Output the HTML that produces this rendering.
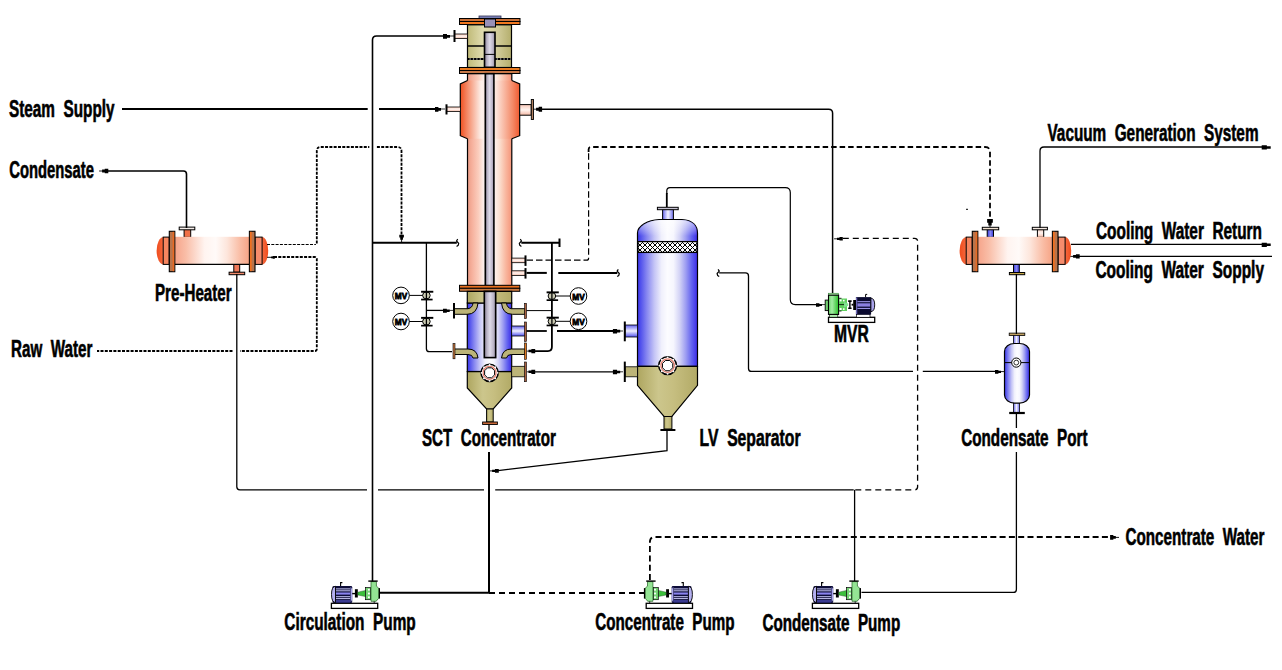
<!DOCTYPE html>
<html><head><meta charset="utf-8"><style>
html,body{margin:0;padding:0;background:#fff;width:1282px;height:670px;overflow:hidden}
svg{display:block}
text{font-family:"Liberation Sans",sans-serif;font-weight:bold;white-space:pre;stroke:#000;stroke-width:0.6px}
</style></head><body>
<svg width="1282" height="670" viewBox="0 0 1282 670">

<defs>
<linearGradient id="gSal" x1="0" x2="1" y1="0" y2="0">
 <stop offset="0" stop-color="#eb9c86"/><stop offset="0.1" stop-color="#f6b09c"/><stop offset="0.25" stop-color="#fbcebe"/><stop offset="0.37" stop-color="#fdf0ec"/><stop offset="0.6" stop-color="#fff4f0"/><stop offset="0.72" stop-color="#fbe0d0"/><stop offset="0.86" stop-color="#f9b8a0"/><stop offset="1" stop-color="#f59478"/>
</linearGradient>
<linearGradient id="gJac" x1="0" x2="1" y1="0" y2="0">
 <stop offset="0" stop-color="#f05020"/><stop offset="0.12" stop-color="#f48a68"/><stop offset="0.35" stop-color="#fdf0ea"/><stop offset="0.6" stop-color="#fde6dc"/><stop offset="0.88" stop-color="#f48a68"/><stop offset="1" stop-color="#f05a30"/>
</linearGradient>
<linearGradient id="gBlue" x1="0" x2="1" y1="0" y2="0">
 <stop offset="0" stop-color="#3a30e8"/><stop offset="0.05" stop-color="#5050ec"/><stop offset="0.15" stop-color="#8484f0"/><stop offset="0.28" stop-color="#c4c4f6"/><stop offset="0.4" stop-color="#f0f0fc"/><stop offset="0.5" stop-color="#fcfcff"/><stop offset="0.6" stop-color="#f6f6fe"/><stop offset="0.7" stop-color="#d4d4f6"/><stop offset="0.8" stop-color="#a0a0f2"/><stop offset="0.9" stop-color="#6464f0"/><stop offset="1" stop-color="#3a2ae8"/>
</linearGradient>
<linearGradient id="gBlueV" x1="0" x2="0" y1="0" y2="1">
 <stop offset="0" stop-color="#ffffff" stop-opacity="0.65"/><stop offset="0.6" stop-color="#ffffff" stop-opacity="0.3"/><stop offset="1" stop-color="#ffffff" stop-opacity="0"/>
</linearGradient>
<linearGradient id="gKhaki" x1="0" x2="1" y1="0" y2="0">
 <stop offset="0" stop-color="#aea660"/><stop offset="0.35" stop-color="#ccc68c"/><stop offset="0.6" stop-color="#c6be80"/><stop offset="1" stop-color="#b2aa66"/>
</linearGradient>
<linearGradient id="gKhakiT" x1="0" x2="1" y1="0" y2="0">
 <stop offset="0" stop-color="#c0ba78"/><stop offset="0.35" stop-color="#e0dcb0"/><stop offset="0.7" stop-color="#d0ca98"/><stop offset="1" stop-color="#b4ae6c"/>
</linearGradient>
<linearGradient id="gTube" x1="0" x2="1" y1="0" y2="0">
 <stop offset="0" stop-color="#847c90"/><stop offset="0.25" stop-color="#bcb6c8"/><stop offset="0.5" stop-color="#dedae8"/><stop offset="0.8" stop-color="#bcb6c8"/><stop offset="1" stop-color="#8c8498"/>
</linearGradient>
<linearGradient id="gHX" x1="0" x2="1" y1="0" y2="0">
 <stop offset="0" stop-color="#f6a48a"/><stop offset="0.15" stop-color="#f9bea8"/><stop offset="0.4" stop-color="#fff4f0"/><stop offset="0.55" stop-color="#fffaf8"/><stop offset="0.7" stop-color="#fde6dc"/><stop offset="0.88" stop-color="#f9bca4"/><stop offset="1" stop-color="#f6a486"/>
</linearGradient>
<linearGradient id="gPipeP" x1="0" x2="0" y1="0" y2="1">
 <stop offset="0" stop-color="#f8c8b8"/><stop offset="0.5" stop-color="#fff4f0"/><stop offset="1" stop-color="#f4b8a4"/>
</linearGradient>
<linearGradient id="gPipeB" x1="0" x2="0" y1="0" y2="1">
 <stop offset="0" stop-color="#6060f0"/><stop offset="0.5" stop-color="#f0f0ff"/><stop offset="1" stop-color="#5050ee"/>
</linearGradient>
<linearGradient id="gPipeBV" x1="0" x2="1" y1="0" y2="0">
 <stop offset="0" stop-color="#3838d8"/><stop offset="0.5" stop-color="#8888f4"/><stop offset="1" stop-color="#3838d8"/>
</linearGradient>
<linearGradient id="gGreen" x1="0" x2="1" y1="0" y2="0">
 <stop offset="0" stop-color="#40c040"/><stop offset="0.45" stop-color="#a8f0a8"/><stop offset="1" stop-color="#48c048"/>
</linearGradient>
<linearGradient id="gPipeBL" x1="0" x2="1" y1="0" y2="0">
 <stop offset="0" stop-color="#6464ec"/><stop offset="0.5" stop-color="#f4f4ff"/><stop offset="1" stop-color="#7070f0"/>
</linearGradient>
<linearGradient id="gGreenM" x1="0" x2="1" y1="0" y2="0">
 <stop offset="0" stop-color="#6cd86c"/><stop offset="0.35" stop-color="#a4eca4"/><stop offset="1" stop-color="#28c028"/>
</linearGradient>
<linearGradient id="gCap" x1="0" x2="1" y1="0" y2="0">
 <stop offset="0" stop-color="#f04c1c"/><stop offset="1" stop-color="#f46a40"/>
</linearGradient>
<linearGradient id="gCapR" x1="0" x2="1" y1="0" y2="0">
 <stop offset="0" stop-color="#f46a40"/><stop offset="1" stop-color="#f04c1c"/>
</linearGradient>
<pattern id="mesh" x="0" y="0" width="5" height="5" patternUnits="userSpaceOnUse">
 <rect width="5" height="5" fill="#fff"/><rect x="0" y="0" width="1" height="1" fill="#000"/><rect x="0" y="4" width="1" height="1" fill="#000"/><rect x="1" y="1" width="1" height="1" fill="#000"/><rect x="1" y="3" width="1" height="1" fill="#000"/><rect x="2" y="2" width="1" height="1" fill="#000"/><rect x="3" y="1" width="1" height="1" fill="#000"/><rect x="3" y="3" width="1" height="1" fill="#000"/><rect x="4" y="0" width="1" height="1" fill="#000"/><rect x="4" y="4" width="1" height="1" fill="#000"/>
</pattern>
</defs>

<rect x="479" y="16" width="22" height="2.3" fill="#8088c0" stroke="#303050" stroke-width="0.8"/>
<rect x="459.5" y="18.5" width="60.5" height="3" fill="#c87038" stroke="#000" stroke-width="1"/>
<rect x="459.5" y="21.5" width="60.5" height="3" fill="#f07820" stroke="#000" stroke-width="1"/>
<rect x="467.5" y="24.8" width="44" height="42.7" fill="url(#gKhakiT)" stroke="#000" stroke-width="1.2"/>
<line x1="467.5" y1="46" x2="511.5" y2="46" stroke="#000" stroke-width="1.6"/>
<line x1="468" y1="59" x2="511" y2="59" stroke="#000" stroke-width="2"/>
<line x1="469.5" y1="59" x2="511" y2="59" stroke="#fff" stroke-width="1" stroke-dasharray="1.2,2.2"/>
<rect x="484.5" y="19" width="11" height="8" fill="#9890b8" stroke="#000" stroke-width="1"/>
<rect x="484.5" y="32.3" width="10.5" height="35" fill="url(#gTube)" stroke="#000" stroke-width="1.6"/>
<line x1="484.5" y1="54.4" x2="495" y2="54.4" stroke="#000" stroke-width="1"/>
<rect x="454.5" y="34" width="13" height="4.5" fill="url(#gPipeP)" stroke="#000" stroke-width="0.8"/>
<line x1="454.5" y1="30" x2="454.5" y2="42" stroke="#000" stroke-width="2"/>
<rect x="467.5" y="73.7" width="44.3" height="212" fill="url(#gSal)" stroke="#000" stroke-width="1.2"/>
<path d="M467.5,80.5 L460.3,84 L460.3,135.7 L467.5,138.8 L511.8,138.8 L519.7,135.7 L519.7,84 L511.8,80.5 Z" fill="url(#gJac)"/>
<path d="M467.5,80.5 L460.3,84 L460.3,135.7 L467.5,138.8 M511.8,80.5 L519.7,84 L519.7,135.7 L511.8,138.8" fill="none" stroke="#000" stroke-width="1.2"/>
<rect x="459.5" y="67.5" width="60.5" height="3" fill="#e87a20" stroke="#000" stroke-width="1"/>
<rect x="459.5" y="70.5" width="60.5" height="3" fill="#c87848" stroke="#000" stroke-width="1"/>
<rect x="485.3" y="73.7" width="8.6" height="212" fill="url(#gTube)" stroke="#000" stroke-width="1.6"/>
<rect x="446.5" y="107" width="14" height="4.5" fill="url(#gPipeP)" stroke="#000" stroke-width="0.8"/>
<line x1="446.5" y1="104.3" x2="446.5" y2="114.5" stroke="#000" stroke-width="2"/>
<rect x="519.7" y="104.6" width="11.5" height="10.6" fill="url(#gPipeP)" stroke="#000" stroke-width="1"/>
<rect x="531.3" y="99.5" width="2.2" height="20" fill="#b08060" stroke="#000" stroke-width="0.9"/>
<rect x="511.8" y="258.09999999999997" width="13.5" height="4.6" fill="url(#gPipeP)" stroke="#000" stroke-width="0.8"/>
<line x1="525.5" y1="255.39999999999998" x2="525.5" y2="265.9" stroke="#000" stroke-width="2"/>
<rect x="511.8" y="270.8" width="13.5" height="4.6" fill="url(#gPipeP)" stroke="#000" stroke-width="0.8"/>
<line x1="525.5" y1="268.1" x2="525.5" y2="278.6" stroke="#000" stroke-width="2"/>
<rect x="459.5" y="285.3" width="60.3" height="3" fill="#e87020" stroke="#000" stroke-width="1"/>
<rect x="459.5" y="288.3" width="60.3" height="3" fill="#c87840" stroke="#000" stroke-width="1"/>
<rect x="467.3" y="303" width="44.4" height="68.5" fill="url(#gBlue)" stroke="#000" stroke-width="1.2"/>
<rect x="467.3" y="291.4" width="44.4" height="11.6" fill="url(#gKhaki)" stroke="#000" stroke-width="1.2"/>
<path d="M467.3,371.7 L511.7,371.7 L511.7,388 L493.2,409 L486.6,409 L467.3,388 Z" fill="url(#gKhaki)" stroke="#000" stroke-width="1.2"/>
<rect x="486.6" y="409" width="6.6" height="13" fill="url(#gKhaki)" stroke="#000" stroke-width="1"/>
<rect x="482.6" y="422" width="14.8" height="2.5" fill="#c86838" stroke="#000" stroke-width="0.9"/>
<rect x="484.3" y="291.4" width="11.4" height="66.2" fill="url(#gTube)" stroke="#000" stroke-width="1.6"/>
<path d="M454.5,308.7 L468,308.7 Q472.5,308 473,303 L478,303 Q477,314.3 467,314.3 L454.5,314.3 Z" fill="#bcb478" stroke="#000" stroke-width="1"/>
<path d="M525,308.7 L511.5,308.7 Q507,308 506.5,303 L501.5,303 Q502.5,314.3 512.5,314.3 L525,314.3 Z" fill="#bcb478" stroke="#000" stroke-width="1"/>
<path d="M454.5,349 L468,349 Q477,349 478,358 L473,358 Q472.5,354.5 468,354.5 L454.5,354.5 Z" fill="#bcb478" stroke="#000" stroke-width="1"/>
<path d="M525,349 L511.5,349 Q502.5,349 501.5,358 L506.5,358 Q507,354.5 511.5,354.5 L525,354.5 Z" fill="#bcb478" stroke="#000" stroke-width="1"/>
<line x1="454" y1="303" x2="454" y2="318.5" stroke="#000" stroke-width="2"/>
<rect x="453" y="343.6" width="2" height="15.2" fill="#c87840" stroke="#000" stroke-width="0.6"/>
<rect x="511.7" y="326" width="13.5" height="10" fill="url(#gPipeB)" stroke="#000" stroke-width="0.8"/>
<rect x="511.7" y="366.3" width="13.5" height="10.5" fill="#bcb478" stroke="#000" stroke-width="0.8"/>
<rect x="524.5" y="303.3" width="2" height="15.3" fill="#a86040" stroke="#000" stroke-width="0.6"/>
<rect x="524.5" y="322" width="2" height="19.5" fill="#a86040" stroke="#000" stroke-width="0.6"/>
<rect x="524.5" y="343" width="2" height="16.3" fill="#e07820" stroke="#000" stroke-width="0.6"/>
<rect x="524.5" y="362" width="2" height="19.7" fill="#a86040" stroke="#000" stroke-width="0.6"/>
<circle cx="489.6" cy="372.8" r="8.600000000000001" fill="#fff" stroke="#000" stroke-width="1.5"/>
<circle cx="489.6" cy="372.8" r="6.51" fill="none" stroke="#e88070" stroke-width="1.3020000000000003"/>
<circle cx="497.60" cy="372.80" r="0.9" fill="#fff"/>
<circle cx="495.26" cy="378.46" r="0.9" fill="#fff"/>
<circle cx="489.60" cy="380.80" r="0.9" fill="#fff"/>
<circle cx="483.94" cy="378.46" r="0.9" fill="#fff"/>
<circle cx="481.60" cy="372.80" r="0.9" fill="#fff"/>
<circle cx="483.94" cy="367.14" r="0.9" fill="#fff"/>
<circle cx="489.60" cy="364.80" r="0.9" fill="#fff"/>
<circle cx="495.26" cy="367.14" r="0.9" fill="#fff"/>
<path d="M494.58,374.86 L491.66,377.78 L487.54,377.78 L484.62,374.86 L484.62,370.74 L487.54,367.82 L491.66,367.82 L494.58,370.74 Z" fill="#fff" stroke="#000" stroke-width="1"/>
<rect x="662.6" y="209.3" width="10.8" height="11" fill="url(#gPipeBL)" stroke="#000" stroke-width="1"/>
<rect x="657.4" y="207.3" width="20.8" height="2.4" fill="#c4c0d0" stroke="#000" stroke-width="1"/>
<path d="M637.5,366.3 L637.5,233 C637.5,226 648,220 659,219.5 L682,219.5 C693,220 697.5,226 697.5,233 L697.5,366.3 Z" fill="url(#gBlue)" stroke="#000" stroke-width="1.2"/>
<path d="M638.2,236 L638.2,233 C638.2,226.5 648,220.3 659,220.2 L682,220.2 C693,220.3 696.8,226.5 696.8,233 L696.8,236 Z" fill="url(#gBlueV)"/>
<rect x="638" y="242" width="59" height="10" fill="url(#mesh)" shape-rendering="crispEdges"/>
<rect x="638" y="241.6" width="59" height="10.8" fill="none" stroke="#000" stroke-width="1.3"/>
<path d="M637.5,366.3 L697.5,366.3 L697.5,385.4 L671.9,416.5 L664,416.5 L637.5,385.4 Z" fill="url(#gKhaki)" stroke="#000" stroke-width="1.2"/>
<rect x="664" y="416.5" width="7.9" height="12.5" fill="url(#gKhaki)" stroke="#000" stroke-width="1"/>
<line x1="660.4" y1="430" x2="675.4" y2="430" stroke="#000" stroke-width="2"/>
<rect x="625" y="325" width="12.5" height="12" fill="url(#gPipeB)" stroke="#000" stroke-width="0.8"/>
<line x1="624.8" y1="321.5" x2="624.8" y2="341.3" stroke="#000" stroke-width="2"/>
<rect x="625" y="366.8" width="12.5" height="10" fill="#bcb478" stroke="#000" stroke-width="0.8"/>
<line x1="624.8" y1="361.6" x2="624.8" y2="382" stroke="#000" stroke-width="2"/>
<circle cx="667.6" cy="365.6" r="8.9" fill="#fff" stroke="#000" stroke-width="1.5"/>
<circle cx="667.6" cy="365.6" r="6.72" fill="none" stroke="#e88070" stroke-width="1.344"/>
<circle cx="675.86" cy="365.60" r="0.9" fill="#fff"/>
<circle cx="673.44" cy="371.44" r="0.9" fill="#fff"/>
<circle cx="667.60" cy="373.86" r="0.9" fill="#fff"/>
<circle cx="661.76" cy="371.44" r="0.9" fill="#fff"/>
<circle cx="659.34" cy="365.60" r="0.9" fill="#fff"/>
<circle cx="661.76" cy="359.76" r="0.9" fill="#fff"/>
<circle cx="667.60" cy="357.34" r="0.9" fill="#fff"/>
<circle cx="673.44" cy="359.76" r="0.9" fill="#fff"/>
<path d="M672.74,367.73 L669.73,370.74 L665.47,370.74 L662.46,367.73 L662.46,363.47 L665.47,360.46 L669.73,360.46 L672.74,363.47 Z" fill="#fff" stroke="#000" stroke-width="1"/>
<rect x="184.1" y="228.8" width="6.6" height="8.5" fill="#f07048" stroke="#000" stroke-width="1"/>
<rect x="179.2" y="227.1" width="15.6" height="2.7" fill="#f4ece8" stroke="#000" stroke-width="1"/>
<rect x="233.8" y="264.2" width="5.9" height="8" fill="#f07858" stroke="#000" stroke-width="1"/>
<rect x="229.1" y="272.2" width="15.6" height="2.5" fill="#f08868" stroke="#000" stroke-width="1"/>
<g transform="translate(0,0)">
<path d="M163.6,237.1 A7 13.649999999999991 0 0 0 163.6,264.4 Z" fill="url(#gCap)"/>
<path d="M262,237.1 A6.2 13.649999999999991 0 0 1 262,264.4 Z" fill="url(#gCapR)"/>
<rect x="163.2" y="237.1" width="6" height="27.299999999999983" fill="#f78660" stroke="#000" stroke-width="1"/>
<rect x="255" y="237.1" width="7.1" height="27.299999999999983" fill="#f58c6c" stroke="#000" stroke-width="1"/>
<rect x="174.9" y="236.79999999999998" width="74.3" height="27.599999999999984" fill="url(#gHX)"/>
<line x1="174.9" y1="264.4" x2="249.2" y2="264.4" stroke="#000" stroke-width="1.1"/>
<rect x="169.3" y="231.3" width="5.5" height="40.4" fill="#b8744c" stroke="#000" stroke-width="1.1"/>
<rect x="172.6" y="231.8" width="1.7" height="39.4" fill="#e86a24"/>
<rect x="249.4" y="231.3" width="5.6" height="40.4" fill="#b8744c" stroke="#000" stroke-width="1.1"/>
<rect x="249.9" y="231.8" width="1.8" height="39.4" fill="#f07020"/>
</g>
<rect x="987.2" y="228.8" width="6.3" height="8.5" fill="url(#gPipeBV)" stroke="#000" stroke-width="1"/>
<rect x="982.3" y="227.3" width="16.4" height="2.5" fill="#f0e0d0" stroke="#000" stroke-width="1"/>
<rect x="1037.4" y="228.8" width="6.3" height="8.5" fill="url(#gPipeP)" stroke="#000" stroke-width="1"/>
<rect x="1032.3" y="227.3" width="15.1" height="2.5" fill="#f4e8e0" stroke="#000" stroke-width="1"/>
<rect x="1013.5" y="264.2" width="5.8" height="8.4" fill="url(#gPipeBV)" stroke="#000" stroke-width="1"/>
<rect x="1009.4" y="272.5" width="15.3" height="2.2" fill="#c8a848" stroke="#000" stroke-width="1"/>
<g transform="translate(803,0)">
<path d="M163.6,237.1 A7 13.649999999999991 0 0 0 163.6,264.4 Z" fill="url(#gCap)"/>
<path d="M262,237.1 A6.2 13.649999999999991 0 0 1 262,264.4 Z" fill="url(#gCapR)"/>
<rect x="163.2" y="237.1" width="6" height="27.299999999999983" fill="#f78660" stroke="#000" stroke-width="1"/>
<rect x="255" y="237.1" width="7.1" height="27.299999999999983" fill="#f58c6c" stroke="#000" stroke-width="1"/>
<rect x="174.9" y="236.79999999999998" width="74.3" height="27.599999999999984" fill="url(#gHX)"/>
<line x1="174.9" y1="264.4" x2="249.2" y2="264.4" stroke="#000" stroke-width="1.1"/>
<rect x="169.3" y="231.3" width="5.5" height="40.4" fill="#b8744c" stroke="#000" stroke-width="1.1"/>
<rect x="172.6" y="231.8" width="1.7" height="39.4" fill="#e86a24"/>
<rect x="249.4" y="231.3" width="5.6" height="40.4" fill="#b8744c" stroke="#000" stroke-width="1.1"/>
<rect x="249.9" y="231.8" width="1.8" height="39.4" fill="#f07020"/>
</g>
<rect x="1013.5" y="334.5" width="5.9" height="9.5" fill="url(#gPipeBL)" stroke="#000" stroke-width="0.8"/>
<rect x="1009.2" y="333.1" width="15.6" height="2.4" fill="#c0a060" stroke="#000" stroke-width="0.8"/>
<rect x="1013.5" y="402.5" width="5.9" height="10" fill="url(#gPipeBL)" stroke="#000" stroke-width="0.8"/>
<line x1="1009.2" y1="413" x2="1024.8" y2="413" stroke="#000" stroke-width="2.2"/>
<rect x="1004.5" y="343.5" width="25" height="59.6" rx="10" ry="8" fill="url(#gBlue)" stroke="#000" stroke-width="1.2"/>
<line x1="1004.5" y1="362.6" x2="1029.5" y2="362.6" stroke="#000" stroke-width="1"/>
<circle cx="1016.3" cy="362.6" r="4.6" fill="#fff" stroke="#000" stroke-width="1"/>
<circle cx="1016.3" cy="362.6" r="2.4" fill="#fff" stroke="#000" stroke-width="0.8"/>
<path d="M122,109 L367.7,109" fill="none" stroke="#000" stroke-width="2.1"/>
<path d="M379,109 L437,109" fill="none" stroke="#000" stroke-width="2.1"/>
<path d="M440,109 L445,109" fill="none" stroke="#000" stroke-width="0.8"/>
<path d="M435.00,107.10 h3.42 v0.92 h2.58 v2.76 h-2.58 v0.92 h-3.42 Z" fill="#000"/>
<path d="M372.5,592 L372.50,40.00 Q372.5,36 376.50,36.00 L444,36" fill="none" stroke="#000" stroke-width="1.6"/>
<path d="M449,36 L454,36" fill="none" stroke="#000" stroke-width="0.8"/>
<path d="M443.00,34.10 h3.99 v0.92 h3.01 v2.76 h-3.01 v0.92 h-3.99 Z" fill="#000"/>
<path d="M186.5,228 L186.50,174.00 Q186.5,171 183.50,171.00 L106,171" fill="none" stroke="#000" stroke-width="1.6"/>
<path d="M99.1,171 L103,171" fill="none" stroke="#000" stroke-width="0.9"/>
<path d="M108.30,168.65 h-3.53 v0.94 h-2.67 v2.82 h2.67 v0.94 h3.53 Z" fill="#000"/>
<path d="M267,244.5 L315.9,244.5" fill="none" stroke="#000" stroke-width="1.1" stroke-dasharray="3,1.3"/>
<path d="M316.8,243.6 L316.80,151.00 Q316.8,147 320.80,147.00 L369.3,147" fill="none" stroke="#000" stroke-width="1.8" stroke-dasharray="3,1.3"/>
<path d="M376.9,147 L397.50,147.00 Q401.5,147 401.50,151.00 L401.5,235" fill="none" stroke="#000" stroke-width="1.8" stroke-dasharray="3,1.3"/>
<path d="M399.30,234.70 v2.85 h0.92 v2.15 h2.76 v-2.15 h0.92 v-2.85 Z" fill="#000"/>
<path d="M401.6,239 L401.6,242" fill="none" stroke="#000" stroke-width="0.9"/>
<path d="M274,257 L314.80,257.00 Q316.8,257 316.80,259.00 L316.80,349.00 Q316.8,351 314.80,351.00 L240,351" fill="none" stroke="#000" stroke-width="1.8" stroke-dasharray="3,1.3"/>
<path d="M267,257.3 L271,257.3" fill="none" stroke="#000" stroke-width="0.9"/>
<path d="M274.80,256.00 h-2.17 v0.56 h-1.63 v1.68 h1.63 v0.56 h2.17 Z" fill="#000"/>
<path d="M232.5,351 L97,351" fill="none" stroke="#000" stroke-width="1.8" stroke-dasharray="3,1.3"/>
<path d="M236.8,274 L236.80,486.80 Q236.8,489.8 239.80,489.80 L367,489.8" fill="none" stroke="#000" stroke-width="1.3"/>
<path d="M378,489.8 L484,489.8" fill="none" stroke="#000" stroke-width="1.3"/>
<path d="M495.2,489.8 L853.7,489.8" fill="none" stroke="#000" stroke-width="1.3"/>
<path d="M372.5,242.8 L456.8,242.8" fill="none" stroke="#000" stroke-width="2"/>
<path d="M457.70,239.20 L456.50,241.00 L458.70,243.40 L458.20,245.30 L456.60,246.40" fill="none" stroke="#000" stroke-width="1.2" stroke-linejoin="round"/>
<path d="M426.4,242.8 L426.40,348.70 Q426.4,351.7 429.40,351.70 L452,351.7" fill="none" stroke="#000" stroke-width="1.3"/>
<path d="M426.4,310.4 L445,310.4" fill="none" stroke="#000" stroke-width="1.3"/>
<path d="M449,310.4 L453.3,310.4" fill="none" stroke="#000" stroke-width="0.8"/>
<path d="M443.00,308.80 h3.82 v0.80 h2.88 v2.40 h-2.88 v0.80 h-3.82 Z" fill="#000"/>
<circle cx="401" cy="295.4" r="8.3" fill="#fff" stroke="#000" stroke-width="1"/>
<text x="394.8" y="298.9" font-size="9.4" style="stroke-width:0.8px" textLength="12.4" lengthAdjust="spacingAndGlyphs">MV</text>
<path d="M409.3,295.4 L426.4,295.4" fill="none" stroke="#000" stroke-width="1"/>
<ellipse cx="426.4" cy="295.4" rx="3.8" ry="3.5" fill="#ccccb4" stroke="#000" stroke-width="1"/>
<line x1="426.4" y1="291.4" x2="426.4" y2="299.4" stroke="#000" stroke-width="1.3"/>
<rect x="421.09999999999997" y="290.79999999999995" width="12.2" height="1.9" fill="#000"/>
<rect x="421.09999999999997" y="298.7" width="11.5" height="1.7" fill="#000"/>
<circle cx="401" cy="321.5" r="8.3" fill="#fff" stroke="#000" stroke-width="1"/>
<text x="394.8" y="325.0" font-size="9.4" style="stroke-width:0.8px" textLength="12.4" lengthAdjust="spacingAndGlyphs">MV</text>
<path d="M409.3,321.5 L426.4,321.5" fill="none" stroke="#000" stroke-width="1"/>
<ellipse cx="426.4" cy="321.5" rx="3.8" ry="3.5" fill="#ccccb4" stroke="#000" stroke-width="1"/>
<line x1="426.4" y1="317.5" x2="426.4" y2="325.5" stroke="#000" stroke-width="1.3"/>
<rect x="421.09999999999997" y="316.9" width="12.2" height="1.9" fill="#000"/>
<rect x="421.09999999999997" y="324.8" width="11.5" height="1.7" fill="#000"/>
<path d="M520.30,239.20 L521.50,241.00 L519.30,243.40 L519.80,245.30 L521.40,246.40" fill="none" stroke="#000" stroke-width="1.2" stroke-linejoin="round"/>
<path d="M521.3,242.8 L559.5,242.8" fill="none" stroke="#000" stroke-width="2"/>
<path d="M559.5,238.5 L559.5,247" fill="none" stroke="#000" stroke-width="2"/>
<path d="M551.9,242.8 L551.90,347.10 Q551.9,351.1 547.90,351.10 L533,351.1" fill="none" stroke="#000" stroke-width="1.8"/>
<path d="M526.8,351.1 L529,351.1" fill="none" stroke="#000" stroke-width="0.8"/>
<path d="M535.20,349.00 h-3.82 v0.84 h-2.88 v2.52 h2.88 v0.84 h3.82 Z" fill="#000"/>
<path d="M526.5,260.2 L586.60,260.20 Q588.6,260.2 588.60,258.20 L588.6,152" fill="none" stroke="#000" stroke-width="1.2" stroke-dasharray="6.5,3"/>
<path d="M588.6,152 L588.60,149.50 Q588.6,147 591.10,147.00 L985.00,147.00 Q990,147 990.00,152.00 L990,219.5" fill="none" stroke="#000" stroke-width="1.8" stroke-dasharray="5.5,3"/>
<path d="M987.15,219.00 v3.65 h1.14 v2.75 h3.42 v-2.75 h1.14 v-3.65 Z" fill="#000"/>
<path d="M990,225 L990,227.2" fill="none" stroke="#000" stroke-width="0.9"/>
<rect x="966" y="208.8" width="2" height="1" fill="#000"/>
<path d="M526.5,272.9 L546.8,272.9" fill="none" stroke="#000" stroke-width="2"/>
<path d="M558.3,272.9 L617.3,272.9" fill="none" stroke="#000" stroke-width="2"/>
<path d="M618.30,269.30 L617.10,271.10 L619.30,273.50 L618.80,275.40 L617.20,276.50" fill="none" stroke="#000" stroke-width="1.2" stroke-linejoin="round"/>
<path d="M526.5,310.6 L551.9,310.6" fill="none" stroke="#000" stroke-width="1"/>
<path d="M526.5,331 L546.8,331" fill="none" stroke="#000" stroke-width="1.8"/>
<path d="M557,331 L615,331" fill="none" stroke="#000" stroke-width="1.8"/>
<path d="M619,331 L623,331" fill="none" stroke="#000" stroke-width="0.8"/>
<path d="M612.90,328.95 h4.16 v0.90 h3.14 v2.70 h-3.14 v0.90 h-4.16 Z" fill="#000"/>
<path d="M532,371.8 L616,371.8" fill="none" stroke="#000" stroke-width="1.3"/>
<path d="M526.8,371.8 L529,371.8" fill="none" stroke="#000" stroke-width="0.8"/>
<path d="M619,371.8 L623,371.8" fill="none" stroke="#000" stroke-width="0.8"/>
<path d="M535.20,369.70 h-3.82 v0.84 h-2.88 v2.52 h2.88 v0.84 h3.82 Z" fill="#000"/>
<path d="M612.90,369.75 h4.16 v0.90 h3.14 v2.70 h-3.14 v0.90 h-4.16 Z" fill="#000"/>
<circle cx="578.5" cy="296" r="8.3" fill="#fff" stroke="#000" stroke-width="1"/>
<text x="572.3" y="299.5" font-size="9.4" style="stroke-width:0.8px" textLength="12.4" lengthAdjust="spacingAndGlyphs">MV</text>
<path d="M551.9,296 L570.2,296" fill="none" stroke="#000" stroke-width="1"/>
<ellipse cx="551.9" cy="296" rx="3.8" ry="3.5" fill="#ccccb4" stroke="#000" stroke-width="1"/>
<line x1="551.9" y1="292" x2="551.9" y2="300" stroke="#000" stroke-width="1.3"/>
<rect x="546.6" y="291.4" width="12.2" height="1.9" fill="#000"/>
<rect x="546.6" y="299.3" width="11.5" height="1.7" fill="#000"/>
<circle cx="578.5" cy="321.3" r="8.3" fill="#fff" stroke="#000" stroke-width="1"/>
<text x="572.3" y="324.8" font-size="9.4" style="stroke-width:0.8px" textLength="12.4" lengthAdjust="spacingAndGlyphs">MV</text>
<path d="M551.9,321.3 L570.2,321.3" fill="none" stroke="#000" stroke-width="1"/>
<ellipse cx="551.9" cy="321.3" rx="3.8" ry="3.5" fill="#ccccb4" stroke="#000" stroke-width="1"/>
<line x1="551.9" y1="317.3" x2="551.9" y2="325.3" stroke="#000" stroke-width="1.3"/>
<rect x="546.6" y="316.7" width="12.2" height="1.9" fill="#000"/>
<rect x="546.6" y="324.6" width="11.5" height="1.7" fill="#000"/>
<path d="M666.8,207 L666.8,193" fill="none" stroke="#000" stroke-width="1.8"/>
<path d="M666.8,194 L666.80,190.80 Q666.8,187.6 670.00,187.60 L785.30,187.60 Q790.3,187.6 790.30,192.60 L790.30,299.60 Q790.3,304.6 795.30,304.60 L817,304.6" fill="none" stroke="#000" stroke-width="1.2"/>
<path d="M821,304.6 L825.2,304.6" fill="none" stroke="#000" stroke-width="0.8"/>
<path d="M816.00,303.20 h3.42 v0.72 h2.58 v2.16 h-2.58 v0.72 h-3.42 Z" fill="#000"/>
<path d="M667,431 L667,450.6 L498,470.6" fill="none" stroke="#000" stroke-width="1.3"/>
<path d="M489,470.9 L493,470.9" fill="none" stroke="#000" stroke-width="0.9"/>
<path d="M498.80,469.10 h-3.82 v0.72 h-2.88 v2.16 h2.88 v0.72 h3.82 Z" fill="#000"/>
<path d="M718.10,269.30 L719.30,271.10 L717.10,273.50 L717.60,275.40 L719.20,276.50" fill="none" stroke="#000" stroke-width="1.2" stroke-linejoin="round"/>
<path d="M719.1,272.9 L745.50,272.90 Q748.5,272.9 748.50,275.90 L748.50,368.40 Q748.5,371.4 751.50,371.40 L913,371.4" fill="none" stroke="#000" stroke-width="1.3"/>
<path d="M922.8,371.4 L996,371.4" fill="none" stroke="#000" stroke-width="1.3"/>
<path d="M1000,371.6 L1004.3,371.6" fill="none" stroke="#000" stroke-width="0.9"/>
<path d="M995.00,370.00 h3.42 v0.76 h2.58 v2.28 h-2.58 v0.76 h-3.42 Z" fill="#000"/>
<path d="M832.6,293.2 L832.60,113.20 Q832.6,109.2 828.60,109.20 L540,109.2" fill="none" stroke="#000" stroke-width="1.5"/>
<path d="M533.6,109.2 L537,109.2" fill="none" stroke="#000" stroke-width="0.8"/>
<path d="M542.10,106.75 h-3.42 v0.98 h-2.58 v2.94 h2.58 v0.98 h3.42 Z" fill="#000"/>
<path d="M842.8,238.4 L914.60,238.40 Q917.6,238.4 917.60,241.40 L917.60,486.80 Q917.6,489.8 914.60,489.80 L855,489.8" fill="none" stroke="#000" stroke-width="1.3" stroke-dasharray="6,4"/>
<path d="M834.1,238.8 L838,238.8" fill="none" stroke="#000" stroke-width="0.9"/>
<path d="M842.80,237.00 h-3.31 v0.72 h-2.49 v2.16 h2.49 v0.72 h3.31 Z" fill="#000"/>
<path d="M854.6,489.8 L854.6,581" fill="none" stroke="#000" stroke-width="1.3"/>
<path d="M1040,228 L1040.00,151.00 Q1040,147 1044.00,147.00 L1263,147" fill="none" stroke="#000" stroke-width="1.3"/>
<path d="M1261.70,145.30 h5.13 v0.84 h3.87 v2.52 h-3.87 v0.84 h-5.13 Z" fill="#000"/>
<path d="M1071,244.4 L1263,244.4" fill="none" stroke="#000" stroke-width="1.3"/>
<path d="M1261.70,242.70 h5.13 v0.84 h3.87 v2.52 h-3.87 v0.84 h-5.13 Z" fill="#000"/>
<path d="M1078,256.4 L1272,256.4" fill="none" stroke="#000" stroke-width="1.3"/>
<path d="M1070.4,256.4 L1074,256.4" fill="none" stroke="#000" stroke-width="0.9"/>
<path d="M1079.70,254.20 h-3.76 v0.88 h-2.84 v2.64 h2.84 v0.88 h3.76 Z" fill="#000"/>
<path d="M1016.4,274 L1016.4,334" fill="none" stroke="#000" stroke-width="1.3"/>
<path d="M1016.4,414 L1016.4,428" fill="none" stroke="#000" stroke-width="1.3"/>
<path d="M1016.4,452 L1016.40,589.40 Q1016.4,592.4 1013.40,592.40 L861.5,592.4" fill="none" stroke="#000" stroke-width="1.3"/>
<path d="M489,424.5 L489,430.4" fill="none" stroke="#000" stroke-width="1.3"/>
<path d="M489,452 L489,592.8 L380,592.8" fill="none" stroke="#000" stroke-width="2"/>
<path d="M489,593 L645,593" fill="none" stroke="#000" stroke-width="2" stroke-dasharray="6,4"/>
<path d="M649.9,580 L649.90,542.00 Q649.9,537 654.90,537.00 L1110,537" fill="none" stroke="#000" stroke-width="1.8" stroke-dasharray="6,3.3"/>
<path d="M1115,537.4 L1119,537.4" fill="none" stroke="#000" stroke-width="0.9"/>
<path d="M1110.10,535.05 h3.25 v0.94 h2.45 v2.82 h-2.45 v0.94 h-3.25 Z" fill="#000"/>
<g transform="translate(331,580)">
<rect x="0.4" y="23.3" width="46.3" height="5.1" fill="#fff" stroke="#000" stroke-width="1.3"/>
<rect x="1.5" y="6" width="19.7" height="16.9" rx="1.2" fill="#0c0c38"/>
<path d="M4.5,6.3 Q0.5,6.6 0.5,14.4 Q0.5,22.3 4.5,22.6 Z" fill="#b4b0f0" stroke="#000" stroke-width="0.9"/>
<path d="M19.6,7 Q21.4,7.5 21.4,14.4 Q21.4,21.4 19.6,21.9 Z" fill="#a8a4ec"/>
<rect x="5" y="8.4" width="14.2" height="1" fill="#c8c8f6"/>
<rect x="5" y="10.3" width="14.2" height="1" fill="#c8c8f6"/>
<rect x="5" y="12.5" width="14.2" height="2.1" fill="#8a84ee"/>
<rect x="5" y="16.2" width="14.2" height="1" fill="#c8c8f6"/>
<rect x="5" y="18.1" width="14.2" height="1" fill="#c8c8f6"/>
<rect x="5" y="20" width="14.2" height="2.5" fill="#3a3a90"/>
<path d="M9.6,6 L9.6,2.6 L11.4,2.6" fill="none" stroke="#000" stroke-width="1.1"/>
<line x1="21.2" y1="13.6" x2="24.2" y2="13.6" stroke="#000" stroke-width="1.4"/>
<rect x="23.9" y="9.2" width="2.9" height="8.3" fill="#000"/>
<path d="M26.8,12.2 L34.6,10.4 L34.6,16.6 L26.8,15 Z" fill="#3cc03c" stroke="#104010" stroke-width="0.4"/>
<rect x="34.6" y="7.6" width="4.9" height="12.1" fill="#74d474" stroke="#000" stroke-width="0.7"/>
<rect x="37" y="8.8" width="1.8" height="1.8" fill="#fff"/>
<rect x="37" y="12.6" width="1.8" height="1.8" fill="#fff"/>
<rect x="37" y="16.4" width="1.8" height="1.8" fill="#fff"/>
<path d="M40,1.6 L45.4,1.6 L45.4,6.2 L47.6,8 L47.6,18.6 L46,20 L45.2,21.3 L40,21.3 Z" fill="#94e494" stroke="#1c601c" stroke-width="0.7"/>
<line x1="43.2" y1="21.3" x2="43.2" y2="23.3" stroke="#000" stroke-width="0.8"/>
<rect x="37.3" y="0.4" width="9.4" height="1.4" fill="#000"/>
<rect x="47.8" y="8.1" width="1.2" height="10.5" fill="#000"/>
</g>
<g transform="translate(812,580)">
<rect x="0.4" y="23.3" width="46.3" height="5.1" fill="#fff" stroke="#000" stroke-width="1.3"/>
<rect x="1.5" y="6" width="19.7" height="16.9" rx="1.2" fill="#0c0c38"/>
<path d="M4.5,6.3 Q0.5,6.6 0.5,14.4 Q0.5,22.3 4.5,22.6 Z" fill="#b4b0f0" stroke="#000" stroke-width="0.9"/>
<path d="M19.6,7 Q21.4,7.5 21.4,14.4 Q21.4,21.4 19.6,21.9 Z" fill="#a8a4ec"/>
<rect x="5" y="8.4" width="14.2" height="1" fill="#c8c8f6"/>
<rect x="5" y="10.3" width="14.2" height="1" fill="#c8c8f6"/>
<rect x="5" y="12.5" width="14.2" height="2.1" fill="#8a84ee"/>
<rect x="5" y="16.2" width="14.2" height="1" fill="#c8c8f6"/>
<rect x="5" y="18.1" width="14.2" height="1" fill="#c8c8f6"/>
<rect x="5" y="20" width="14.2" height="2.5" fill="#3a3a90"/>
<path d="M9.6,6 L9.6,2.6 L11.4,2.6" fill="none" stroke="#000" stroke-width="1.1"/>
<line x1="21.2" y1="13.6" x2="24.2" y2="13.6" stroke="#000" stroke-width="1.4"/>
<rect x="23.9" y="9.2" width="2.9" height="8.3" fill="#000"/>
<path d="M26.8,12.2 L34.6,10.4 L34.6,16.6 L26.8,15 Z" fill="#3cc03c" stroke="#104010" stroke-width="0.4"/>
<rect x="34.6" y="7.6" width="4.9" height="12.1" fill="#74d474" stroke="#000" stroke-width="0.7"/>
<rect x="37" y="8.8" width="1.8" height="1.8" fill="#fff"/>
<rect x="37" y="12.6" width="1.8" height="1.8" fill="#fff"/>
<rect x="37" y="16.4" width="1.8" height="1.8" fill="#fff"/>
<path d="M40,1.6 L45.4,1.6 L45.4,6.2 L47.6,8 L47.6,18.6 L46,20 L45.2,21.3 L40,21.3 Z" fill="#94e494" stroke="#1c601c" stroke-width="0.7"/>
<line x1="43.2" y1="21.3" x2="43.2" y2="23.3" stroke="#000" stroke-width="0.8"/>
<rect x="37.3" y="0.4" width="9.4" height="1.4" fill="#000"/>
<rect x="47.8" y="8.1" width="1.2" height="10.5" fill="#000"/>
</g>
<g transform="translate(692.9,580) scale(-1,1)">
<rect x="0.4" y="23.3" width="46.3" height="5.1" fill="#fff" stroke="#000" stroke-width="1.3"/>
<rect x="1.5" y="6" width="19.7" height="16.9" rx="1.2" fill="#0c0c38"/>
<path d="M4.5,6.3 Q0.5,6.6 0.5,14.4 Q0.5,22.3 4.5,22.6 Z" fill="#b4b0f0" stroke="#000" stroke-width="0.9"/>
<path d="M19.6,7 Q21.4,7.5 21.4,14.4 Q21.4,21.4 19.6,21.9 Z" fill="#a8a4ec"/>
<rect x="5" y="8.4" width="14.2" height="1" fill="#c8c8f6"/>
<rect x="5" y="10.3" width="14.2" height="1" fill="#c8c8f6"/>
<rect x="5" y="12.5" width="14.2" height="2.1" fill="#8a84ee"/>
<rect x="5" y="16.2" width="14.2" height="1" fill="#c8c8f6"/>
<rect x="5" y="18.1" width="14.2" height="1" fill="#c8c8f6"/>
<rect x="5" y="20" width="14.2" height="2.5" fill="#3a3a90"/>
<path d="M9.6,6 L9.6,2.6 L11.4,2.6" fill="none" stroke="#000" stroke-width="1.1"/>
<line x1="21.2" y1="13.6" x2="24.2" y2="13.6" stroke="#000" stroke-width="1.4"/>
<rect x="23.9" y="9.2" width="2.9" height="8.3" fill="#000"/>
<path d="M26.8,12.2 L34.6,10.4 L34.6,16.6 L26.8,15 Z" fill="#3cc03c" stroke="#104010" stroke-width="0.4"/>
<rect x="34.6" y="7.6" width="4.9" height="12.1" fill="#74d474" stroke="#000" stroke-width="0.7"/>
<rect x="37" y="8.8" width="1.8" height="1.8" fill="#fff"/>
<rect x="37" y="12.6" width="1.8" height="1.8" fill="#fff"/>
<rect x="37" y="16.4" width="1.8" height="1.8" fill="#fff"/>
<path d="M40,1.6 L45.4,1.6 L45.4,6.2 L47.6,8 L47.6,18.6 L46,20 L45.2,21.3 L40,21.3 Z" fill="#94e494" stroke="#1c601c" stroke-width="0.7"/>
<line x1="43.2" y1="21.3" x2="43.2" y2="23.3" stroke="#000" stroke-width="0.8"/>
<rect x="37.3" y="0.4" width="9.4" height="1.4" fill="#000"/>
<rect x="47.8" y="8.1" width="1.2" height="10.5" fill="#000"/>
</g>
<rect x="828.5" y="317.3" width="46.2" height="5.1" fill="#fff" stroke="#000" stroke-width="1.3"/>
<rect x="829.3" y="314.2" width="8.5" height="3" fill="#b0ecb0" stroke="#000" stroke-width="0.6"/>
<rect x="828.6" y="293.2" width="9.9" height="2.2" fill="#a8e8a8" stroke="#207020" stroke-width="0.5"/>
<rect x="825.2" y="300.1" width="3.3" height="10.5" fill="#70cc70" stroke="#000" stroke-width="0.9"/>
<rect x="828.5" y="295.2" width="10.1" height="19.2" fill="url(#gGreenM)" stroke="#000" stroke-width="1.1"/>
<rect x="839" y="298.5" width="8" height="12.5" fill="#60d060"/>
<rect x="839.6" y="299.4" width="2" height="2" fill="#fff"/><rect x="839.6" y="308" width="2" height="2" fill="#fff"/><rect x="843" y="299.8" width="1.6" height="1.6" fill="#fff"/><rect x="843" y="308.3" width="1.6" height="1.6" fill="#fff"/>
<path d="M839,298.3 h2.5 M839,311 h2.5 M838.8,304.6 h8" stroke="#000" stroke-width="0.8"/>
<path d="M844,302 L848.2,303.6 L848.2,305.8 L844,307.4 Z" fill="#80e090"/>
<path d="M848.2,300.3 h3.4 v1.6 h-1 v5.6 h1 v1.6 h-3.4 v-1.6 h1 v-5.6 h-1 Z" fill="#000"/>
<rect x="851.6" y="303.8" width="1.8" height="1.8" fill="#000"/>
<rect x="853.2" y="300" width="2.8" height="10" fill="#000"/>
<rect x="856.5" y="314.2" width="13.5" height="3.1" fill="#fff" stroke="#000" stroke-width="0.7"/>
<rect x="855.9" y="297.1" width="15.2" height="17.5" fill="#0a0a30"/>
<rect x="856.2" y="297.5" width="1" height="16.5" fill="#8880d8"/>
<rect x="857.4" y="301.1" width="13" height="1.1" fill="#9a94e4"/>
<rect x="857.4" y="303.3" width="13" height="3.3" fill="#8a80e0"/>
<rect x="857.4" y="307.9" width="13" height="1.1" fill="#9a94e4"/>
<path d="M870.9,298 Q874.7,298.6 874.7,304.9 Q874.7,311.2 870.9,311.8 Z" fill="#aaa4ec" stroke="#000" stroke-width="0.9"/>
<path d="M865.6,297.1 L865.6,294.4 L867.2,294.4" fill="none" stroke="#000" stroke-width="1"/>
<g font-family="Liberation Sans, sans-serif" font-weight="bold" fill="#000">
<text x="9" y="117" font-size="23" textLength="105.5" lengthAdjust="spacingAndGlyphs">Steam  Supply</text>
<text x="9.3" y="178" font-size="23" textLength="84.7" lengthAdjust="spacingAndGlyphs">Condensate</text>
<text x="11" y="356.6" font-size="23" textLength="81.3" lengthAdjust="spacingAndGlyphs">Raw  Water</text>
<text x="155" y="300.8" font-size="23" textLength="76.6" lengthAdjust="spacingAndGlyphs">Pre-Heater</text>
<text x="422" y="445.8" font-size="23" textLength="133.8" lengthAdjust="spacingAndGlyphs">SCT  Concentrator</text>
<text x="699.5" y="445.6" font-size="23" textLength="101" lengthAdjust="spacingAndGlyphs">LV  Separator</text>
<text x="961.2" y="446.3" font-size="23" textLength="126.3" lengthAdjust="spacingAndGlyphs">Condensate  Port</text>
<text x="834" y="341.6" font-size="23" textLength="34.8" lengthAdjust="spacingAndGlyphs">MVR</text>
<text x="1047.5" y="140.8" font-size="23" textLength="211" lengthAdjust="spacingAndGlyphs">Vacuum  Generation  System</text>
<text x="1096" y="238.5" font-size="23" textLength="166" lengthAdjust="spacingAndGlyphs">Cooling  Water  Return</text>
<text x="1095.4" y="278" font-size="23" textLength="168.6" lengthAdjust="spacingAndGlyphs">Cooling  Water  Sopply</text>
<text x="1125.5" y="544.7" font-size="23" textLength="139" lengthAdjust="spacingAndGlyphs">Concentrate  Water</text>
<text x="284.3" y="630.4" font-size="23" textLength="131.4" lengthAdjust="spacingAndGlyphs">Circulation  Pump</text>
<text x="595.2" y="629.7" font-size="23" textLength="139.3" lengthAdjust="spacingAndGlyphs">Concentrate  Pump</text>
<text x="762.4" y="631" font-size="23" textLength="137.8" lengthAdjust="spacingAndGlyphs">Condensate  Pump</text>
</g>
</svg>
</body></html>
